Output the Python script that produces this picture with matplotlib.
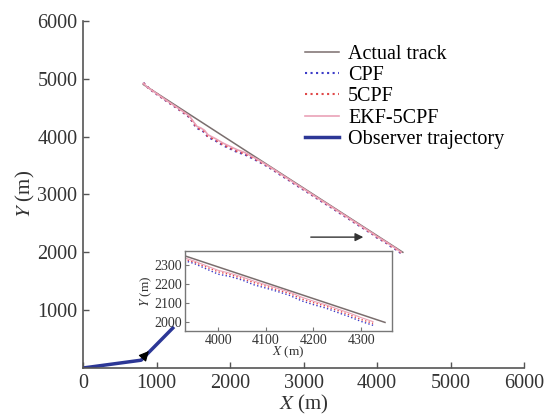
import matplotlib
matplotlib.use("Agg")
import matplotlib.pyplot as plt

plt.rcParams['font.family'] = ['Liberation Serif', 'DejaVu Serif']
plt.rcParams['mathtext.fontset'] = 'stix'

# actual target track (straight run)
act_x = [820, 4350]
act_y = [4900, 2000]

# estimated tracks
est_x = [820, 870, 950, 1050, 1150, 1250, 1350, 1450, 1500, 1550, 1600, 1650, 1700,
         1800, 1900, 2000, 2100, 2200, 2300, 2400, 2500, 2600, 2700, 2800, 2900, 3000,
         3100, 3200, 3300, 3400, 3500, 3600, 3700, 3800, 3900, 3950, 4000, 4025, 4050,
         4075, 4100, 4125, 4150, 4175, 4200, 4225, 4250, 4275, 4300, 4325]
cpf_y = [4930, 4862, 4780, 4690, 4600, 4515, 4425, 4330, 4230, 4140, 4120, 4075, 3990,
         3930, 3850, 3790, 3730, 3690, 3625, 3560, 3490, 3410, 3325, 3245, 3160, 3080,
         3000, 2915, 2835, 2755, 2670, 2590, 2505, 2425, 2342, 2305, 2250, 2238, 2220,
         2195, 2178, 2160, 2140, 2112, 2092, 2075, 2052, 2030, 2005, 1985]
cpf5_y = [4925, 4860, 4785, 4695, 4605, 4520, 4432, 4340, 4240, 4155, 4130, 4090, 4005,
          3945, 3865, 3805, 3745, 3705, 3640, 3572, 3500, 3420, 3335, 3255, 3170, 3090,
          3008, 2925, 2845, 2763, 2680, 2598, 2515, 2433, 2350, 2312, 2262, 2248, 2228,
          2206, 2188, 2168, 2150, 2122, 2102, 2085, 2062, 2040, 2015, 1995]
ekf_y = [4920, 4858, 4788, 4700, 4612, 4528, 4442, 4352, 4260, 4175, 4150, 4110, 4030,
         3965, 3890, 3830, 3770, 3725, 3655, 3585, 3508, 3428, 3343, 3262, 3178, 3097,
         3015, 2932, 2852, 2770, 2687, 2605, 2522, 2440, 2358, 2318, 2270, 2255, 2236,
         2214, 2195, 2176, 2157, 2131, 2110, 2092, 2070, 2049, 2025, 2004]

# observer path
obs_x = [0, 790, 1220]
obs_y = [0, 135, 690]

c_act = '#7a6e6e'
c_cpf = '#3c3cc8'
c_5cpf = '#e04848'
c_ekf = '#eaa2b8'
c_obs = '#2c3796'


def draw_tracks(ax, lw=1.2):
    ax.plot(est_x, cpf_y, color=c_cpf, ls=':', lw=lw, label='CPF')
    ax.plot(est_x, cpf5_y, color=c_5cpf, ls=':', lw=lw, label='5CPF')
    ax.plot(est_x, ekf_y, color=c_ekf, ls='-', lw=lw * 0.8, label='EKF-5CPF')
    ax.plot(act_x, act_y, color=c_act, lw=1.1, label='Actual track', zorder=1)


fig = plt.figure(figsize=(5.5, 4.17), dpi=100)
ax = fig.add_axes([0.151, 0.1175, 0.802, 0.8325])
draw_tracks(ax, lw=1.5)
ax.plot(obs_x, obs_y, color=c_obs, lw=2.5, label='Observer trajectory')

ax.annotate('', xy=(920, 330), xytext=(830, 200),
            arrowprops=dict(arrowstyle='-|>', color='k', lw=0.8, mutation_scale=15))
ax.annotate('', xy=(3850, 2262), xytext=(3060, 2262),
            arrowprops=dict(arrowstyle='-|>', color='#333333', lw=1.0, mutation_scale=12))

ax.set_xlim(0, 6000)
ax.set_ylim(0, 6000)
ax.set_xticks(range(0, 6001, 1000))
ax.set_yticks(range(1000, 6001, 1000))
for s in ['top', 'right']:
    ax.spines[s].set_visible(False)
for s in ['left', 'bottom']:
    ax.spines[s].set_color('#555555')
    ax.spines[s].set_linewidth(1.2)
ax.tick_params(direction='in', length=4, width=1, colors='#555555', labelsize=14.5,
               labelcolor='#333333', pad=4)
ax.set_xlabel(r'$X$ (m)', fontsize=15, color='#333333', labelpad=0)
ax.set_ylabel(r'$Y$ (m)', fontsize=15, color='#333333', labelpad=0)

h, l = ax.get_legend_handles_labels()
order = [3, 0, 1, 2, 4]
ax.legend([h[i] for i in order], [l[i] for i in order], loc='upper left',
          bbox_to_anchor=(0.503, 0.93), frameon=False, fontsize=14.5, borderpad=0,
          borderaxespad=0, labelspacing=0.1, handlelength=1.7, handletextpad=0.45)

# inset zoom near the end of the track
axi = fig.add_axes([0.336, 0.206, 0.377, 0.192])
draw_tracks(axi, lw=1.0)
axi.set_xlim(3930, 4365)
axi.set_ylim(1955, 2370)
axi.set_xticks([4000, 4100, 4200, 4300])
axi.set_yticks([2000, 2100, 2200, 2300])
for s in axi.spines.values():
    s.set_color('#777777')
    s.set_linewidth(1.0)
axi.tick_params(direction='in', length=3, colors='#777777', labelsize=10,
                labelcolor='#333333', pad=2)
axi.set_xlabel(r'$X$ (m)', fontsize=9.5, color='#333333', labelpad=-2)
axi.set_ylabel(r'$Y$ (m)', fontsize=9.5, color='#333333', labelpad=0)

fig.savefig('out.png', dpi=100)
